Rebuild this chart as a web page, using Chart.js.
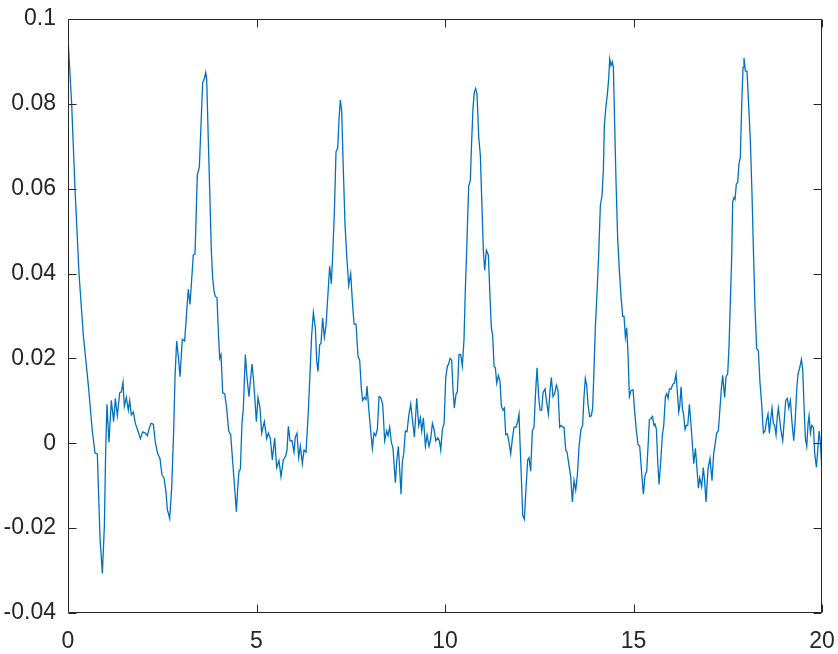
<!DOCTYPE html>
<html>
<head>
<meta charset="utf-8">
<script src="https://cdn.jsdelivr.net/npm/chart.js@4"></script>
<style>
  body { margin: 0; background: #fff; }
  #wrap { width: 838px; height: 654px; }
</style>
</head>
<body>
<div id="wrap"><canvas id="plot" width="838" height="654"></canvas></div>
<script>
'use strict'

// values
const time = [
    0, 0.097, 0.186, 0.292, 0.407, 0.539, 0.645, 0.716, 0.778, 0.849, 0.911, 0.964, 1.0, 1.034, 1.087,
    1.149, 1.211, 1.256, 1.309, 1.371, 1.415, 1.459, 1.494, 1.547, 1.6, 1.636, 1.68, 1.733, 1.786, 1.857,
    1.919, 1.981, 2.052, 2.105, 2.158, 2.202, 2.264, 2.317, 2.379, 2.44, 2.493, 2.546, 2.599, 2.635, 2.697,
    2.75, 2.803, 2.838, 2.882, 2.926, 2.971, 3.032, 3.094, 3.147, 3.191, 3.236,
    3.324, 3.369, 3.43, 3.484, 3.528, 3.572, 3.616, 3.652, 3.678, 3.722, 3.767, 3.802, 3.837, 3.873, 3.908,
    3.952, 3.988, 4.023, 4.059, 4.103, 4.156, 4.209, 4.262, 4.315, 4.368, 4.421, 4.466, 4.501, 4.536, 4.572,
    4.615, 4.651, 4.704, 4.748, 4.801, 4.836, 4.881, 4.916, 4.96, 4.996, 5.04, 5.093, 5.137, 5.208, 5.27,
    5.314, 5.367, 5.42, 5.482, 5.535, 5.597, 5.65, 5.712, 5.774, 5.809, 5.845, 5.889, 5.942, 5.995, 6.03,
    6.074, 6.119, 6.163, 6.216, 6.26, 6.313, 6.375, 6.419, 6.463, 6.508, 6.561, 6.596, 6.631, 6.676, 6.711,
    6.755, 6.799, 6.844, 6.897, 6.941, 6.985, 7.021, 7.065, 7.109, 7.154, 7.189, 7.224, 7.26, 7.304, 7.348,
    7.392, 7.445, 7.498, 7.542, 7.587, 7.64, 7.693, 7.737, 7.782, 7.817, 7.861, 7.905, 7.932, 7.976, 8.02,
    8.073, 8.117, 8.162, 8.206, 8.25, 8.294, 8.347, 8.4, 8.453, 8.489, 8.533, 8.577, 8.621, 8.683, 8.719,
    8.763, 8.798, 8.834, 8.869, 8.905, 8.949, 8.993, 9.038, 9.091, 9.135, 9.188, 9.25, 9.303, 9.347, 9.383,
    9.427, 9.48, 9.524, 9.577, 9.621, 9.666, 9.71, 9.754, 9.807, 9.851, 9.887, 9.931, 9.976, 10.02, 10.064,
    10.099,
    10.133, 10.177, 10.212, 10.247, 10.292, 10.327, 10.371, 10.416, 10.46, 10.504, 10.54, 10.584, 10.628,
    10.672, 10.708, 10.743, 10.778, 10.814, 10.849, 10.894, 10.938, 10.982, 11.018, 11.053, 11.097, 11.15,
    11.194, 11.23, 11.265, 11.3, 11.336, 11.371, 11.415, 11.459, 11.495, 11.539, 11.574, 11.61, 11.654,
    11.698, 11.743, 11.787, 11.831, 11.884, 11.928, 11.963, 11.99, 12.025, 12.061, 12.105, 12.149, 12.193,
    12.229, 12.273, 12.317, 12.361, 12.397, 12.441, 12.485, 12.521, 12.565, 12.6, 12.653, 12.697, 12.742,
    12.786, 12.821, 12.865, 12.91, 12.954, 12.998, 13.043, 13.078, 13.122, 13.157, 13.202, 13.237, 13.29,
    13.334, 13.379, 13.423, 13.467, 13.511, 13.556,
    13.607, 13.651, 13.687, 13.722, 13.758, 13.793, 13.837, 13.881, 13.917, 13.952, 13.987, 14.032, 14.076,
    14.121, 14.165, 14.2, 14.227, 14.271, 14.307, 14.342, 14.369, 14.404, 14.439, 14.466, 14.501, 14.537,
    14.581, 14.625, 14.669, 14.714, 14.749, 14.785, 14.82, 14.855, 14.891, 14.935, 14.988, 15.032, 15.076,
    15.121, 15.165, 15.209, 15.262, 15.306, 15.35, 15.386, 15.421, 15.457, 15.501, 15.545, 15.572, 15.607,
    15.642, 15.678, 15.722, 15.766, 15.802, 15.846, 15.881, 15.917, 15.952, 15.996, 16.041, 16.085, 16.129,
    16.164, 16.2, 16.226, 16.262, 16.297, 16.332, 16.368, 16.403, 16.439, 16.483, 16.527, 16.562, 16.598,
    16.642, 16.677, 16.722, 16.757,
    16.808, 16.852, 16.888, 16.923, 16.976, 17.029, 17.082, 17.126, 17.162, 17.206, 17.25, 17.294, 17.33,
    17.365, 17.418, 17.454, 17.498, 17.533, 17.569, 17.604, 17.631, 17.666, 17.693, 17.728, 17.763, 17.799,
    17.834, 17.87, 17.905, 17.931, 17.967, 18.011, 18.055, 18.099, 18.143, 18.179, 18.223, 18.267, 18.312,
    18.356, 18.4, 18.445, 18.489, 18.533, 18.568, 18.604, 18.639, 18.674, 18.71, 18.745, 18.781, 18.816,
    18.843, 18.878, 18.913, 18.958, 18.993, 19.037, 19.082, 19.117, 19.161, 19.206, 19.25, 19.285, 19.33,
    19.365, 19.409, 19.454, 19.489, 19.525, 19.56, 19.595, 19.631, 19.657, 19.693, 19.728, 19.772, 19.808,
    19.852, 19.887, 19.923, 19.958, 20.0
];

const signal = [
    0.0955, 0.080, 0.060, 0.040, 0.0254, 0.0137, 0.0029, -0.0023, -0.0025, -0.0224, -0.0307, -0.0197, -0.0016, 0.0092, 0.0002,
    0.0101, 0.0051, 0.0106, 0.0065, 0.0119, 0.0121, 0.0144, 0.0087, 0.0108, 0.0078, 0.0101, 0.0067, 0.0074, 0.0047, 0.0029,
    0.0011, 0.0027, 0.0024, 0.0018, 0.0036, 0.0047, 0.0045, 0.0002, -0.0025, -0.0036, -0.0075, -0.0081, -0.0115, -0.0156, -0.0177,
    -0.0106, 0.0029, 0.0155, 0.0241, 0.0205, 0.0157, 0.0245, 0.0241, 0.0308, 0.0363, 0.0327,
    0.0444, 0.0446, 0.0633, 0.0651, 0.0750, 0.0850, 0.0859, 0.0874, 0.0859, 0.0714, 0.0570, 0.0453, 0.0390, 0.0358, 0.0346,
    0.0343, 0.0263, 0.0200, 0.0209, 0.0119, 0.0117, 0.0083, 0.0029, 0.0020, -0.0043, -0.0106, -0.0161, -0.0106, -0.0066, -0.0061,
    0.0047, 0.0083, 0.0209, 0.0155, 0.0110, 0.0146, 0.0187, 0.0155, 0.0101, 0.0051, 0.0108, 0.0083, 0.0024, 0.0051, 0.0011,
    0.0024, 0.0011, -0.0039, 0.0013, -0.0057, -0.0041, -0.0079, -0.0039, -0.0030, -0.0016, 0.0040, 0.0006, 0.0006, -0.0021, 0.0015,
    0.0024, -0.0034, -0.0007, -0.0048, -0.0016, -0.0021, 0.0074, 0.0164, 0.0254, 0.0308, 0.0272, 0.0196, 0.0169, 0.0232, 0.0236,
    0.0295, 0.0250, 0.0277, 0.0354, 0.0417, 0.0376, 0.0444, 0.0543, 0.0687, 0.0696, 0.0764, 0.0809, 0.0782, 0.0642, 0.0516,
    0.0444, 0.0372, 0.0400, 0.0336, 0.0281, 0.0281, 0.0205, 0.0196, 0.0128, 0.0101, 0.0108, 0.0103, 0.0135, 0.0083, 0.0038,
    -0.0012, 0.0024, 0.0018, 0.0033, 0.0110, 0.0108, 0.0092, 0.0006, 0.0029, 0.0018, 0.0038, 0.0002, -0.0012, -0.0093, -0.0043,
    -0.0007, -0.0061, -0.0120, -0.0043, -0.0025, 0.0029, 0.0027, 0.0065, 0.0092, 0.0056, 0.0015, 0.0106, 0.0042, 0.0060, 0.0029,
    0.0060, -0.0007, 0.0020, -0.0007, 0.0011, 0.0047, 0.0033, 0.0006, 0.0013, 0.0006, -0.0016, 0.0033, 0.0047, 0.0155, 0.0182,
    0.0187,
    0.0200, 0.0196, 0.0128, 0.0083, 0.0116, 0.0121, 0.0209, 0.0209, 0.0182, 0.0245, 0.0363, 0.0480, 0.0606,
    0.0620, 0.0714, 0.0791, 0.0827, 0.0836, 0.0823, 0.0723, 0.0678, 0.0552, 0.0453, 0.0408, 0.0455, 0.0444,
    0.0345, 0.0272, 0.0254, 0.0182, 0.0178, 0.0142, 0.0160, 0.0146, 0.0087, 0.0078, 0.0083, 0.0020, 0.0022,
    0.0002, -0.0025, 0.0011, 0.0038, 0.0038, 0.0051, 0.0069, 0.0002, -0.0079, -0.0170, -0.0179, -0.0106, -0.0039,
    -0.0034, -0.0066, 0.0029, 0.0038, 0.0110, 0.0178, 0.0110, 0.0078, 0.0078, 0.0119, 0.0128, 0.0097, 0.0069,
    0.0124, 0.0155, 0.0110, 0.0117, 0.0137, 0.0124, 0.0038, 0.0042, 0.0038, 0.0038, -0.0016, -0.0021, -0.0052,
    -0.0079, -0.0138, -0.0088, -0.0111, -0.0075, -0.0007,
    0.0033, 0.0042, 0.0110, 0.0153, 0.0137, 0.0092, 0.0063, 0.0065, 0.0083, 0.0173, 0.0272, 0.0354, 0.0444,
    0.0561, 0.0584, 0.0642, 0.0750, 0.0796, 0.0823, 0.0859, 0.0906, 0.0890, 0.0899, 0.0886, 0.0750, 0.0615,
    0.0480, 0.0408, 0.0345, 0.0299, 0.0299, 0.0250, 0.0272, 0.0209, 0.0110, 0.0124, 0.0126, 0.0074, 0.0029,
    -0.0003, -0.0007, -0.0061, -0.0120, -0.0075, -0.0066, -0.0007, 0.0056, 0.0058, 0.0063, 0.0042, 0.0045, 0.0033,
    -0.0043, -0.0097, -0.0043, 0.0020, 0.0042, 0.0110, 0.0117, 0.0106, 0.0128, 0.0128, 0.0139, 0.0142, 0.0164,
    0.0119, 0.0074, 0.0087, 0.0133, 0.0083, 0.0065, 0.0033, 0.0042, 0.0042, 0.0092, 0.0042, -0.0003, -0.0048,
    -0.0012, -0.0052, -0.0106, -0.0081,
    -0.0102, -0.0057, -0.0090, -0.0138, -0.0061, -0.0036, -0.0088, -0.0025, -0.0003, 0.0024, 0.0029, 0.0083, 0.0128,
    0.0160, 0.0108, 0.0157, 0.0164, 0.0227, 0.0336, 0.0435, 0.0570, 0.0579, 0.0575, 0.0611, 0.0615, 0.0660,
    0.0674, 0.0796, 0.0886, 0.0908, 0.0877, 0.0877, 0.0796, 0.0714, 0.0588, 0.0462, 0.0318, 0.0223, 0.0218,
    0.0142, 0.0092, 0.0024, 0.0029, 0.0056, 0.0069, 0.0024, 0.0056, 0.0083, 0.0047, 0.0042, 0.0020, 0.0065,
    0.0083, 0.0056, 0.0029, 0.0006, 0.0047, 0.0101, 0.0106, 0.0083, 0.0101, 0.0047, 0.0006, 0.0047, 0.0128,
    0.0164, 0.0178, 0.0198, 0.0173, 0.0083, 0.0011, -0.0007, 0.0047, 0.0065, 0.0024, 0.0042, 0.0038, -0.0025,
    -0.0057, -0.0016, 0.0029, 0.0002, -0.0070
];

const xTicks = [0, 5, 10, 15, 20];
const yTicks = [-0.04, -0.02, 0, 0.02, 0.04, 0.06, 0.08, 0.1];
const yTickLabels = ['-0.04', '-0.02', '0', '0.02', '0.04', '0.06', '0.08', '0.1'];

const axisColor = '#262626';
const tickFont = { family: 'Liberation Sans, Arial, sans-serif', size: 23 };

// box round the plot with inward ticks on all four sides
const boxAxes = {
    id: 'boxAxes',
    afterDraw(chart) {
        const { ctx, chartArea: a, scales } = chart;
        const L = Math.round(a.left) + 0.5, R = Math.round(a.right) - 0.5;
        const T = Math.round(a.top) + 0.5, B = Math.round(a.bottom) - 0.5;
        ctx.save();
        ctx.strokeStyle = axisColor;
        ctx.lineWidth = 1;
        ctx.beginPath();
        ctx.rect(L, T, R - L, B - T);
        xTicks.forEach(v => {
            const px = Math.round(scales.x.getPixelForValue(v)) + 0.5;
            ctx.moveTo(px, B); ctx.lineTo(px, B - 8);
            ctx.moveTo(px, T); ctx.lineTo(px, T + 8);
        });
        yTicks.forEach(v => {
            const py = Math.round(scales.y.getPixelForValue(v)) + 0.5;
            ctx.moveTo(L, py); ctx.lineTo(L + 8, py);
            ctx.moveTo(R, py); ctx.lineTo(R - 8, py);
        });
        ctx.stroke();
        ctx.restore();
    }
};

// fixed axis sizes, no extra room for the edge labels
function fixSize(s, w, h) {
    if (w) s.width = w;
    if (h) s.height = h;
    s.paddingLeft = 0; s.paddingRight = 0;
    s.paddingTop = 0; s.paddingBottom = 0;
}

const points = time.map((t, i) => ({ x: t, y: signal[i] }));

new Chart(document.getElementById('plot'), {
    type: 'line',
    data: {
        datasets: [{
            data: points,
            borderColor: '#0072BD',
            borderWidth: 1.3,
            pointRadius: 0,
            tension: 0,
            fill: false
        }]
    },
    options: {
        responsive: false,
        animation: false,
        layout: { padding: { top: 19, right: 16, left: 0, bottom: 0 } },
        plugins: { legend: { display: false }, tooltip: { enabled: false } },
        scales: {
            x: {
                type: 'linear',
                min: 0,
                max: 20,
                afterFit: s => fixSize(s, 0, 41),
                afterBuildTicks: s => { s.ticks = xTicks.map(v => ({ value: v })); },
                grid: { display: false, drawTicks: false },
                border: { display: false },
                ticks: { color: axisColor, font: tickFont, padding: 15, maxRotation: 0,
                         callback: v => String(v) }
            },
            y: {
                type: 'linear',
                min: -0.04,
                max: 0.1,
                afterFit: s => fixSize(s, 68, 0),
                afterBuildTicks: s => { s.ticks = yTicks.map(v => ({ value: v })); },
                grid: { display: false, drawTicks: false },
                border: { display: false },
                ticks: { color: axisColor, font: tickFont, padding: 12,
                         callback: (v, i) => yTickLabels[i] }
            }
        }
    },
    plugins: [boxAxes]
});
</script>
</body>
</html>
